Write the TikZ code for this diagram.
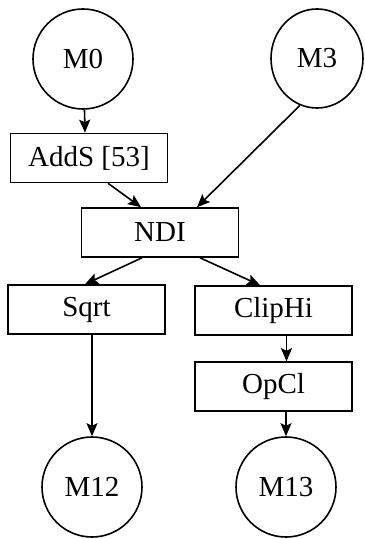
\documentclass[tikz,border=0pt]{standalone}
\usepackage{fontspec}
\setmainfont{Liberation Serif}
\usetikzlibrary{arrows.meta,shapes.geometric,calc}

\tikzset{
  lbl/.style={font=\fontsize{29bp}{33bp}\selectfont},
  opbox/.style={draw, rectangle, line width=1.6bp, inner sep=0pt,
    minimum width=157bp, minimum height=49bp, lbl},
  ring/.style={draw, circle, line width=1.6bp, inner sep=0pt,
    minimum size=100bp, lbl},
  flow/.style={line width=1.6bp,
    -{Stealth[length=13bp,width=11bp,inset=2.5bp]}}
}

\begin{document}
\begin{tikzpicture}[x=1bp,y=-1bp]
  \useasboundingbox (0,0) rectangle (364,539);

  % sources
  \node[ring] (m0) at (83,59) {M0};
  \node[draw, ellipse, line width=1.6bp, inner sep=0pt,
        minimum width=92bp, minimum height=99bp, lbl] (m3) at (317,58.5) {M3};

  % operations
  \node[opbox] (adds)   at (89,158)     {AddS [53]};
  \node[opbox] (ndi)    at (160,232.5)  {NDI};
  \node[opbox] (sqrt)   at (86.5,309.5) {Sqrt};
  \node[opbox] (cliphi) at (273.5,310.5){ClipHi};
  \node[opbox] (opcl)   at (273.5,386.5){OpCl};

  % sinks
  \node[ring] (m12) at (92,487)  {M12};
  \node[ring] (m13) at (286,487) {M13};

  % connectors
  \draw[flow] ([xshift=1.5bp]m0.south) -- ([xshift=-4bp]adds.north);
  \draw[flow] ([xshift=19bp]adds.south) -- ([xshift=-19bp]ndi.north);
  \draw[flow] (m3.250) -- ([xshift=37bp]ndi.north);
  \draw[flow] ([xshift=-18bp]ndi.south) -- ([xshift=-1.5bp]sqrt.north);
  \draw[flow] ([xshift=40bp]ndi.south) -- ([xshift=-13.5bp]cliphi.north);
  \draw[flow] ([xshift=13bp]cliphi.south) -- ([xshift=13bp]opcl.north);
  \draw[flow] ([xshift=5.5bp]sqrt.south) -- (m12.north);
  \draw[flow] ([xshift=12.5bp]opcl.south) -- (m13.north);
\end{tikzpicture}
\end{document}
